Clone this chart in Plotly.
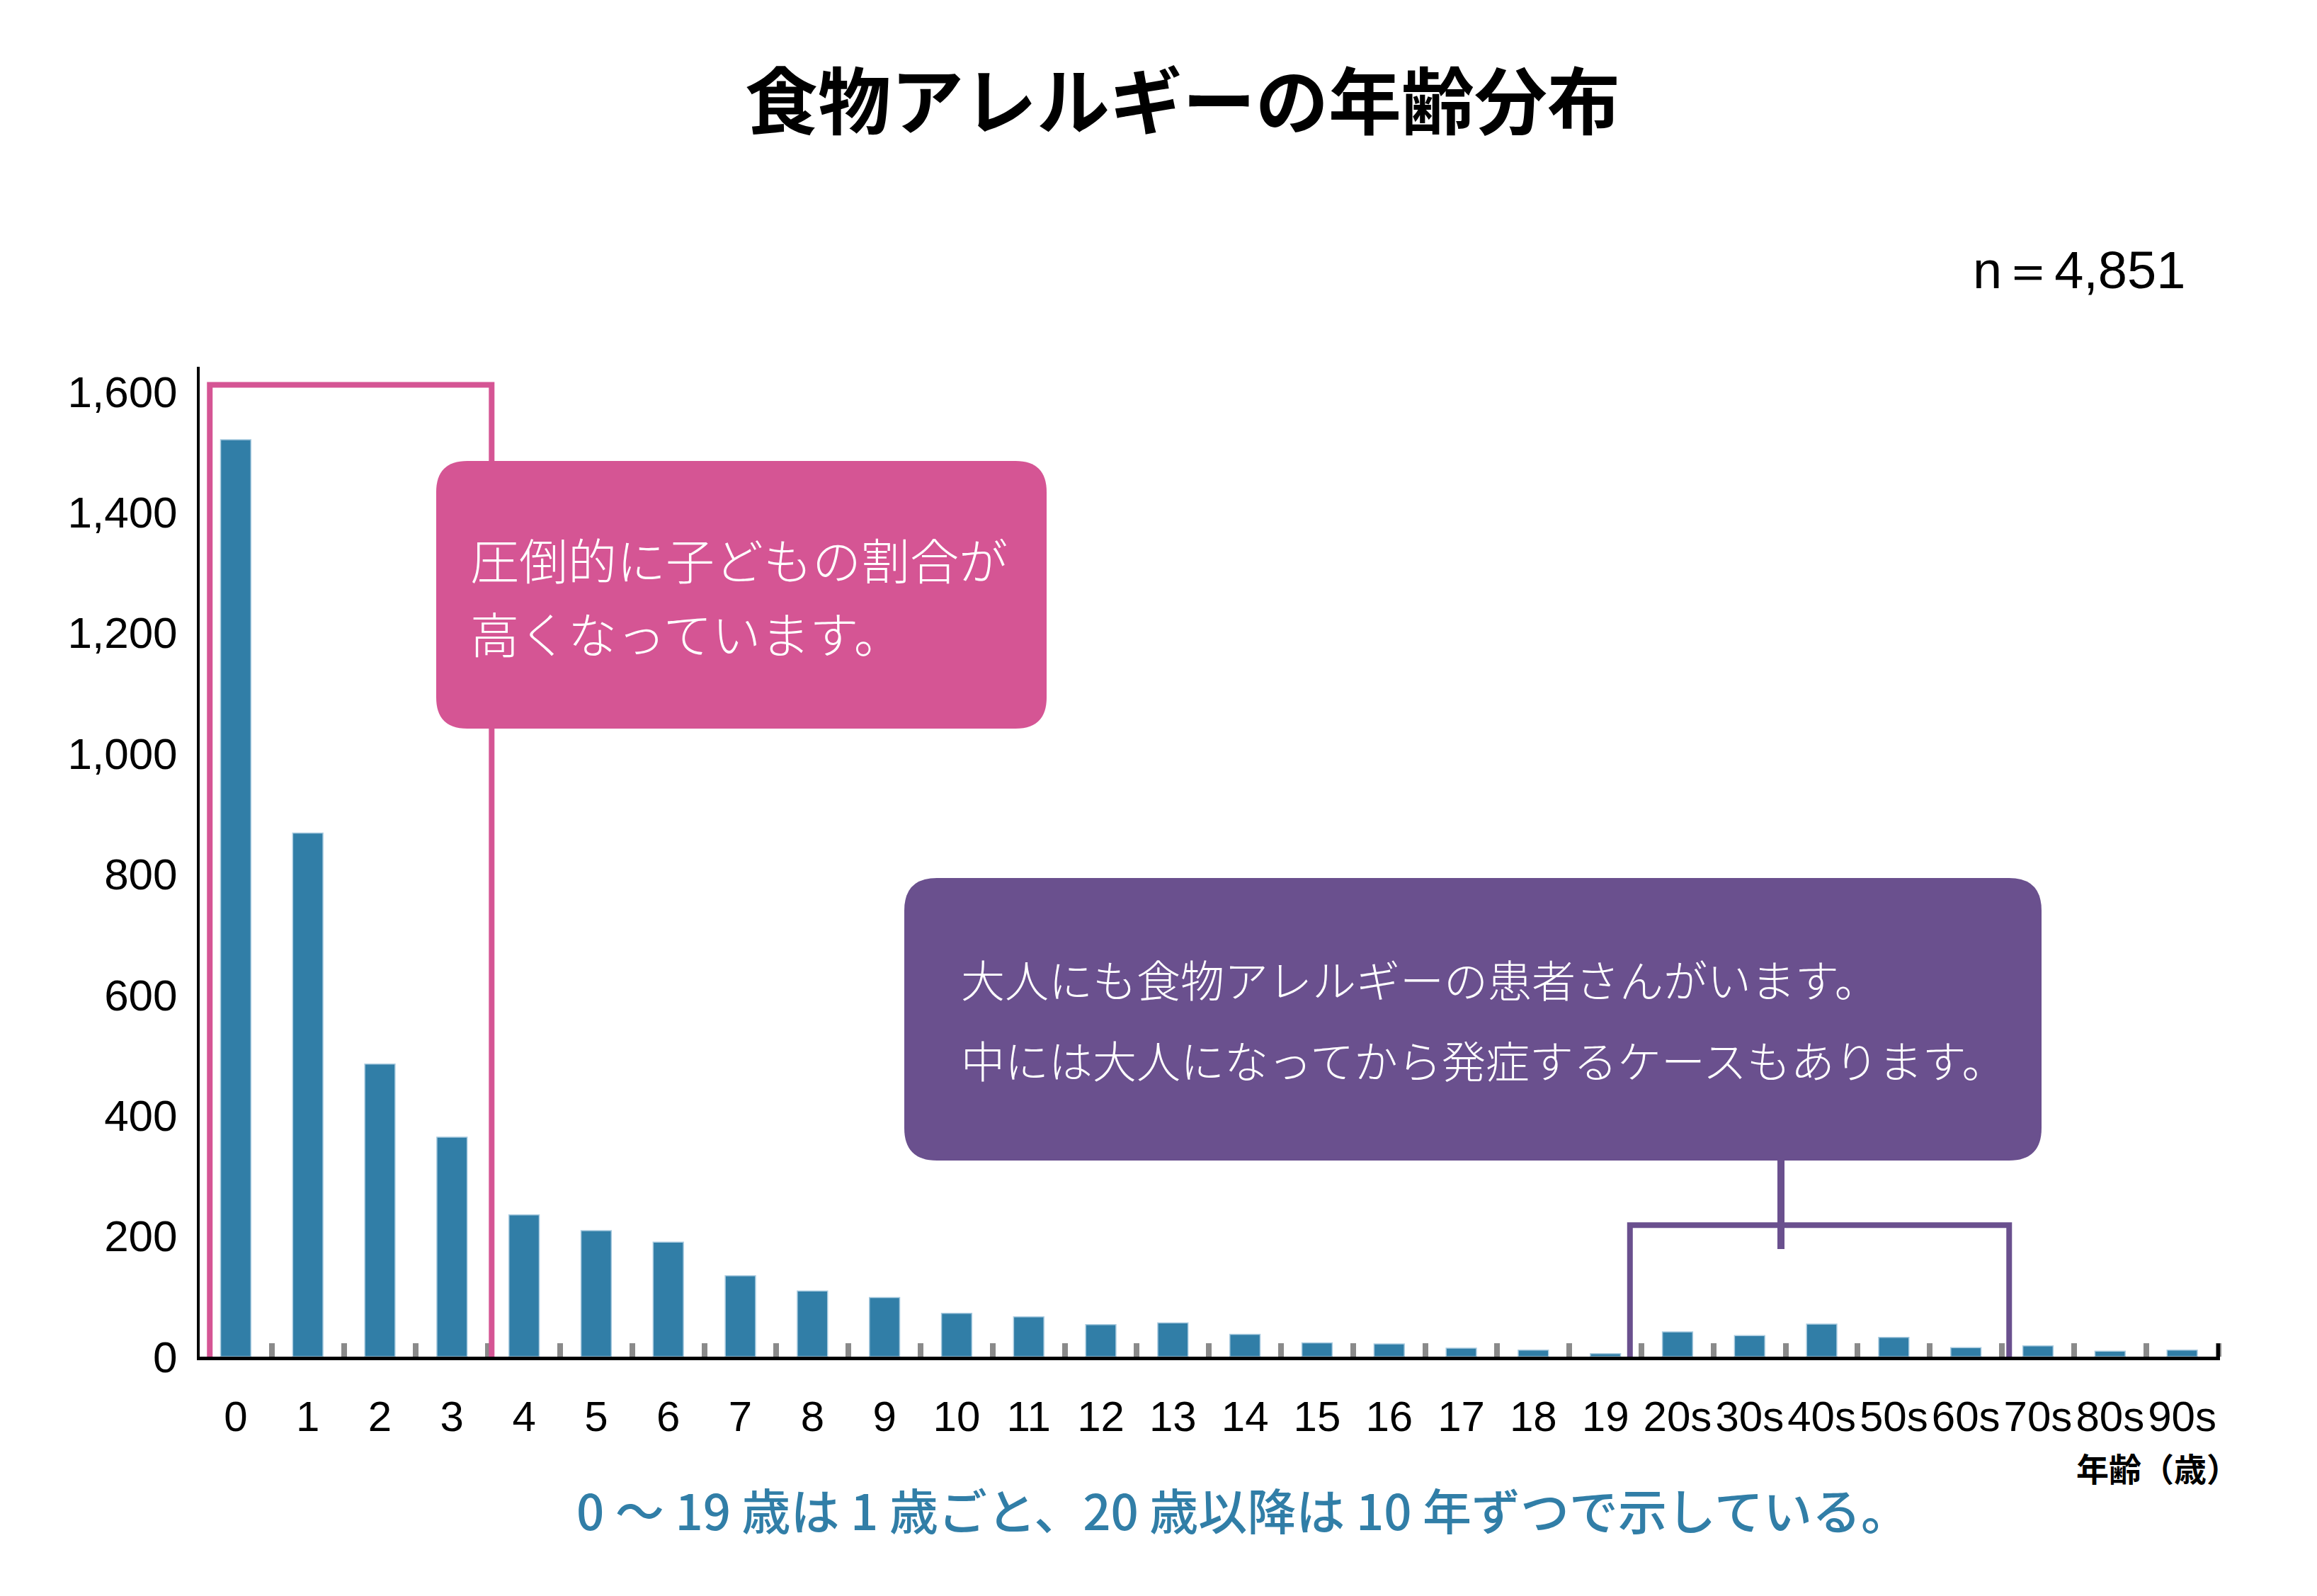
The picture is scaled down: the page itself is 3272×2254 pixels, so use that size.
import plotly.graph_objects as go

ages = [str(i) for i in range(20)] + ["20s", "30s", "40s", "50s", "60s", "70s", "80s", "90s"]
patients = [1520, 868, 485, 364, 235, 209, 190, 134, 109, 98, 72, 66, 53, 56, 37, 23, 21, 14, 11, 5,
            41, 35, 54, 32, 15, 18, 9, 11]
y_ticks = [0, 200, 400, 600, 800, 1000, 1200, 1400, 1600]

title = "食物アレルギーの年齢分布"
n_text = "n＝4,851"
pink_lines = ["圧倒的に子どもの割合が", "高くなっています。"]
purple_lines = ["大人にも食物アレルギーの患者さんがいます。", "中には大人になってから発症するケースもあります。"]
note = "0 ～ 19 歳は 1 歳ごと、20 歳以降は 10 年ずつで示している。"
x_title = "年齢（歳）"

BLUE = "#317EA7"
PINK = "#D55594"
PURPLE = "#6A508E"
JP = "Noto Sans CJK JP"

# page body has an 8px margin, so the figure sits at (8, 8)
OFF = 8
W, H = 3272 - 2 * OFF, 2254 - 2 * OFF
L, R, T, B = 282 - OFF, W - (3135 - OFF), 518 - OFF, H - (1916 - OFF)
pw, ph = W - L - R, H - T - B


def px(x):
    return (x - OFF - L) / pw


def py(y):
    return (T + ph - (y - OFF)) / ph


def rbox(x0, y0, x1, y1, r):
    pts = [("M", x0 + r, y0), ("L", x1 - r, y0), ("Q", x1, y0, x1, y0 + r), ("L", x1, y1 - r),
           ("Q", x1, y1, x1 - r, y1), ("L", x0 + r, y1), ("Q", x0, y1, x0, y1 - r),
           ("L", x0, y0 + r), ("Q", x0, y0, x0 + r, y0)]
    s = ""
    for p in pts:
        c = p[1:]
        s += p[0] + " ".join(f"{px(c[i]):.5f},{py(c[i + 1]):.5f}" for i in range(0, len(c), 2)) + " "
    return s + "Z"


fig = go.Figure(go.Bar(x=ages, y=patients, marker=dict(color=BLUE, line=dict(color="#a8cadf", width=1.5))))

shapes = [
    # pink highlight and callout
    dict(type="rect", xref="x", yref="y", x0=-0.36, x1=3.55, y0=-38, y1=1611,
         line=dict(color=PINK, width=8), layer="above"),
    dict(type="path", xref="paper", yref="paper", path=rbox(616, 651, 1478, 1029, 44),
         fillcolor=PINK, line=dict(width=0), layer="above"),
    # purple highlight, connector and callout
    dict(type="rect", xref="x", yref="y", x0=19.34, x1=24.6, y0=-39, y1=218,
         line=dict(color=PURPLE, width=8), layer="above"),
    dict(type="line", xref="paper", yref="paper", x0=px(2515), x1=px(2515), y0=py(1639), y1=py(1764),
         line=dict(color=PURPLE, width=10), layer="above"),
    dict(type="path", xref="paper", yref="paper", path=rbox(1277, 1240, 2883, 1639, 46),
         fillcolor=PURPLE, line=dict(width=0), layer="above"),
    # black end tick of the x axis
    dict(type="line", xref="x", yref="y", x0=27.5, x1=27.5, y0=0, y1=22,
         line=dict(color="black", width=5), layer="above"),
]

annotations = [
    dict(text=title, x=px(1670), y=py(138), font=dict(family=JP, size=103, color="black", weight="bold")),
    dict(text=n_text, x=px(3088), y=py(382), xanchor="right",
         font=dict(family="Liberation Sans, Arial", size=74, color="black")),
    dict(text=pink_lines[0], x=px(662), y=py(789), xanchor="left",
         font=dict(family=JP, size=69, color="white", weight=300)),
    dict(text=pink_lines[1], x=px(662), y=py(893), xanchor="left",
         font=dict(family=JP, size=69, color="white", weight=300)),
    dict(text=purple_lines[0], x=px(1355), y=py(1382), xanchor="left",
         font=dict(family=JP, size=62, color="white", weight=300)),
    dict(text=purple_lines[1], x=px(1355), y=py(1496), xanchor="left",
         font=dict(family=JP, size=62, color="white", weight=300)),
    dict(text=note, x=px(1755), y=py(2131), font=dict(family=JP, size=69, color=BLUE, weight=500)),
    dict(text=x_title, x=px(3164), y=py(2072), xanchor="right",
         font=dict(family=JP, size=46, color="black", weight="bold")),
]
for a in annotations:
    a.update(xref="paper", yref="paper", showarrow=False, yanchor="middle")

fig.update_layout(
    width=W, height=H,
    margin=dict(l=L, r=R, t=T, b=B),
    paper_bgcolor="white", plot_bgcolor="white",
    bargap=0.58, showlegend=False,
    shapes=shapes, annotations=annotations,
    xaxis=dict(type="category", showline=True, linecolor="black", linewidth=5,
               ticks="inside", tickson="boundaries", ticklen=19, tickwidth=8, tickcolor="#8a8a8a",
               tickangle=0,
               tickfont=dict(family="Liberation Sans Narrow, Liberation Sans, Arial", size=60, color="black"),
               ticklabelstandoff=28, showgrid=False, zeroline=False),
    yaxis=dict(range=[0, 1641], tickvals=y_ticks, tickformat=",", showline=True, linecolor="black",
               linewidth=4, ticks="", showgrid=False, zeroline=False,
               tickfont=dict(family="Liberation Sans, Arial", size=62, color="black"),
               ticklabelstandoff=15),
)

fig.write_html("out.html")
